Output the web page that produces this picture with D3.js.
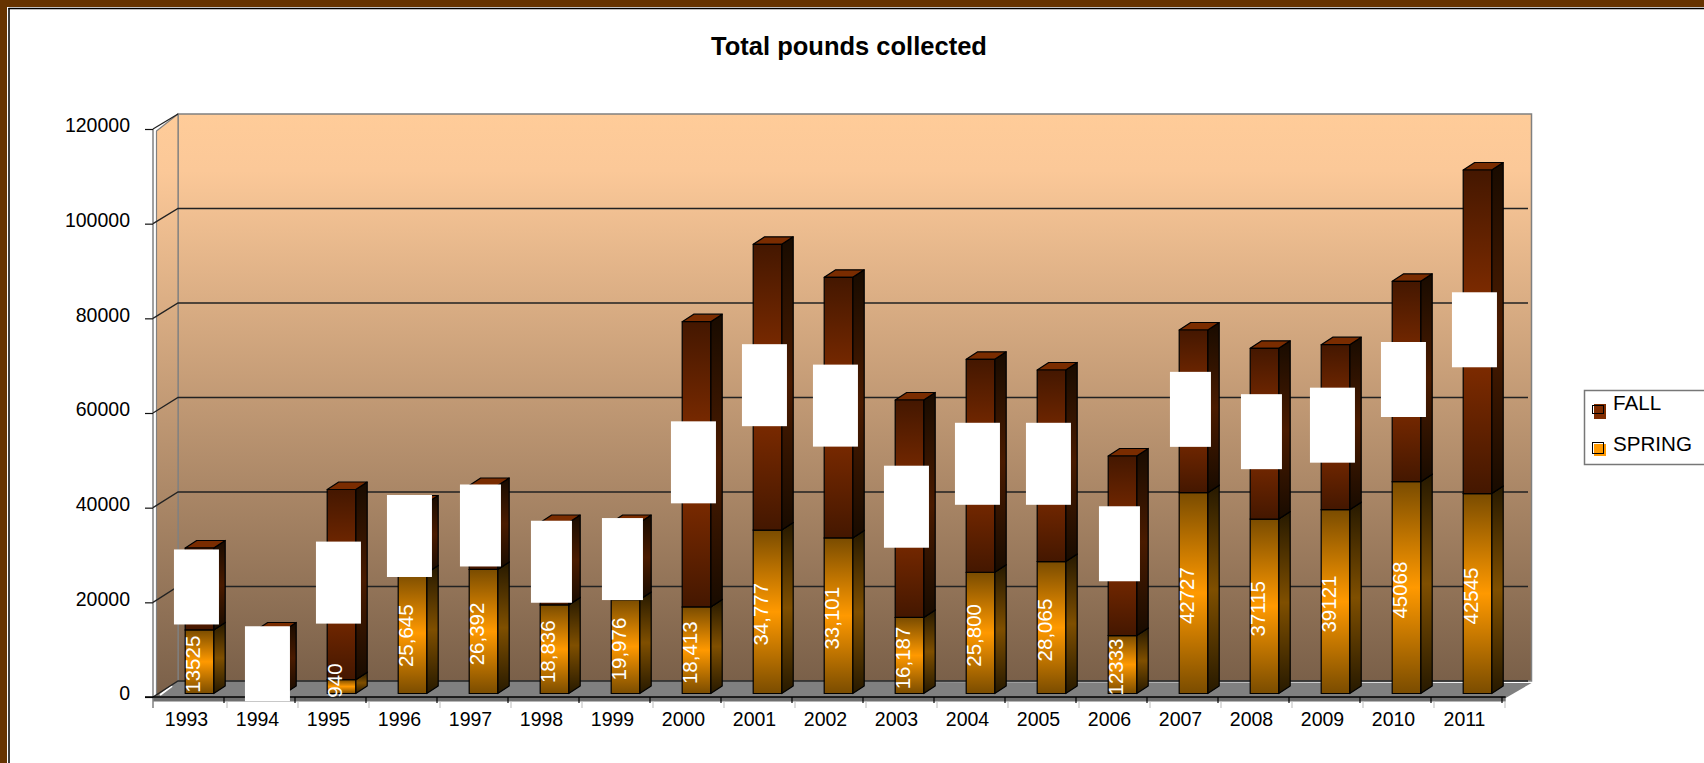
<!DOCTYPE html>
<html>
<head>
<meta charset="utf-8">
<script src="https://cdnjs.cloudflare.com/ajax/libs/d3/7.8.5/d3.min.js"></script>
<style>
  html, body { margin: 0; padding: 0; background: #fff; overflow: hidden; }
  svg { display: block; font-family: "Liberation Sans", Arial, sans-serif; }
</style>
</head>
<body>
<svg id="chart" width="1704" height="763"></svg>
<script>
const years = [1993, 1994, 1995, 1996, 1997, 1998, 1999, 2000, 2001, 2002, 2003, 2004, 2005, 2006, 2007, 2008, 2009, 2010, 2011];
const spring = [13525, 0, 2940, 25645, 26392, 18836, 19976, 18413, 34777, 33101, 16187, 25800, 28065, 12333, 42727, 37115, 39121, 45068, 42545];
const fall = [17435, 13510, 40460, 14885, 17863, 17544, 16404, 60690, 60793, 55450, 46260, 45300, 40765, 38200, 34610, 36335, 35090, 42630, 68835];
const springLabels = ["13525", "", "2,940", "25,645", "26,392", "18,836", "19,976", "18,413", "34,777", "33,101", "16,187", "25,800", "28,065", "12333", "42727", "37115", "39121", "45068", "42545"];
const yTicks = [0, 20000, 40000, 60000, 80000, 100000, 120000];
const seriesNames = ["SPRING", "FALL"];
// the fall labels are hidden behind white boxes in the original, a bit thinner in these years
const narrowBoxYears = [1997, 1998, 1999, 2006, 2007, 2008];

const svg = d3.select("#chart");
const font = 19.5;

// 3d box of the plot
const front = { left: 153, right: 1505.7, top: 129, bottom: 697 };
const back = { left: 178, right: 1531.5, top: 114, bottom: 681 };

const x = d3.scaleBand().domain(years).range([front.left, front.left + 71 * years.length]);
const yFront = d3.scaleLinear().domain([0, 120000]).range([front.bottom, front.top]);
const yBack = d3.scaleLinear().domain([0, 120000]).range([back.bottom, back.top]);
const yBar = d3.scaleLinear().domain([0, 120000]).range([693.5, 129.5]);

const barW = 28.5;
const depthX = 11.5;
const depthY = 7.5;

const table = years.map((year, i) => ({ year, SPRING: spring[i], FALL: fall[i] }));
const stacked = d3.stack().keys(seriesNames)(table);

// gradients
const defs = svg.append("defs");
function gradient(id, stops) {
  const g = defs.append("linearGradient").attr("id", id)
    .attr("x1", 0).attr("y1", 0).attr("x2", 0).attr("y2", 1);
  stops.forEach(s => g.append("stop").attr("offset", s[0]).attr("stop-color", s[1]));
}
gradient("wall", [[0, "#ffcc99"], [0.1, "#fbc898"], [1, "#7a6049"]]);
gradient("fallFront", [[0, "#441700"], [0.5, "#8c3000"], [1, "#441700"]]);
gradient("fallSide", [[0, "#180b00"], [0.5, "#4a1b00"], [1, "#180b00"]]);
gradient("springFront", [[0, "#7a4c00"], [0.5, "#ff9900"], [1, "#7a4c00"]]);
gradient("springSide", [[0, "#261900"], [0.5, "#7f4f00"], [1, "#261900"]]);
defs.append("clipPath").attr("id", "plotClip")
  .append("rect").attr("x", 100).attr("y", 100).attr("width", 1500).attr("height", 599);

// frame of the page
svg.append("rect").attr("width", 1704).attr("height", 7).attr("fill", "#663300");
svg.append("rect").attr("width", 7).attr("height", 763).attr("fill", "#663300");
svg.append("line").attr("x1", 8.5).attr("x2", 1704).attr("y1", 8.5).attr("y2", 8.5).attr("stroke", "#000").attr("stroke-width", 1.5);
svg.append("line").attr("x1", 9).attr("x2", 9).attr("y1", 8).attr("y2", 763).attr("stroke", "#000").attr("stroke-width", 1.5);

svg.append("text")
  .attr("x", 849).attr("y", 55)
  .attr("text-anchor", "middle")
  .attr("font-size", 25.5)
  .attr("font-weight", "bold")
  .text("Total pounds collected");

// walls and floor
const poly = pts => "M" + pts.map(p => p.join(",")).join("L") + "Z";

svg.append("path")
  .attr("d", poly([[front.left, front.bottom], [back.left, back.bottom], [back.right, 683], [front.right, 698]]))
  .attr("fill", "#808080");
svg.append("rect")
  .attr("x", front.left).attr("y", front.bottom)
  .attr("width", front.right - front.left).attr("height", 4.5)
  .attr("fill", "#6f6f6f");
svg.append("rect")
  .attr("x", back.left).attr("y", back.top)
  .attr("width", back.right - back.left).attr("height", back.bottom - back.top)
  .attr("fill", "url(#wall)")
  .attr("stroke", "#808080").attr("stroke-width", 1.5);
svg.append("path")
  .attr("d", poly([[front.left + 3.5, front.top + 2], [back.left, back.top], [back.left, back.bottom], [front.left + 3.5, front.bottom]]))
  .attr("fill", "url(#wall)")
  .attr("stroke", "#808080").attr("stroke-width", 1.2);
svg.append("line")
  .attr("x1", front.left).attr("x2", front.left)
  .attr("y1", front.top).attr("y2", 708)
  .attr("stroke", "#808080").attr("stroke-width", 1.5);
svg.append("line")
  .attr("x1", 160).attr("y1", 695).attr("x2", 172).attr("y2", 686)
  .attr("stroke", "#fff").attr("stroke-width", 2);

// gridlines, back wall and the slanted bit on the left wall
const grid = svg.append("g").attr("stroke", "#222").attr("stroke-width", 1.3).attr("fill", "none");
grid.selectAll("path")
  .data(yTicks)
  .join("path")
  .attr("d", d => d === 120000
    ? `M${front.left},${yFront(d)}L${back.left},${yBack(d)}`
    : `M${front.left},${yFront(d)}L${back.left},${yBack(d)}L1528,${yBack(d)}`);

// y axis on the front edge
const yAxis = d3.axisLeft(yFront).tickValues(yTicks).tickFormat(d3.format("d")).tickSize(8).tickPadding(15);
const yAxisG = svg.append("g").attr("transform", `translate(${front.left},0)`).call(yAxis);
yAxisG.select(".domain").remove();
yAxisG.selectAll("text").attr("font-size", font).attr("font-family", "inherit").attr("fill", "#000").attr("dy", "0.15em");
yAxisG.selectAll("line").attr("stroke", "#111").attr("stroke-width", 1.2);

// x axis
svg.append("line")
  .attr("x1", 145).attr("x2", front.right)
  .attr("y1", front.bottom).attr("y2", front.bottom)
  .attr("stroke", "#000").attr("stroke-width", 1.3);
svg.append("g").selectAll("line")
  .data(years)
  .join("line")
  .attr("x1", d => x(d) + x.bandwidth())
  .attr("x2", d => x(d) + x.bandwidth())
  .attr("y1", front.bottom).attr("y2", 703)
  .attr("stroke", "#000").attr("stroke-width", 1.2);
svg.append("g").selectAll("line")
  .data(years)
  .join("line")
  .attr("x1", d => x(d) + x.bandwidth() + 3)
  .attr("x2", d => x(d) + x.bandwidth() + 3)
  .attr("y1", 701).attr("y2", 708)
  .attr("stroke", "#bbb").attr("stroke-width", 1);

const xAxis = d3.axisBottom(x).tickSize(0).tickPadding(15);
const xAxisG = svg.append("g").attr("transform", `translate(-2,${front.bottom})`).call(xAxis);
xAxisG.select(".domain").remove();
xAxisG.selectAll("text").attr("font-size", font).attr("font-family", "inherit").attr("fill", "#000");

// bars
const barX = d => x(d) + 32.2;
const barsG = svg.append("g").attr("stroke", "#000").attr("stroke-width", 1.2).attr("stroke-linejoin", "round");

stacked.forEach(layer => {
  const name = layer.key === "FALL" ? "fall" : "spring";
  const g = barsG.append("g");
  const segs = layer.map(d => ({ year: d.data.year, y0: yBar(d[0]), y1: yBar(d[1]) }))
    .filter(d => d.y0 - d.y1 > 0);

  g.selectAll("path.side")
    .data(segs)
    .join("path")
    .attr("class", "side")
    .attr("fill", `url(#${name}Side)`)
    .attr("d", d => {
      const r = barX(d.year) + barW;
      return poly([[r, d.y1], [r + depthX, d.y1 - depthY], [r + depthX, d.y0 - depthY], [r, d.y0]]);
    });

  g.selectAll("path.top")
    .data(segs)
    .join("path")
    .attr("class", "top")
    .attr("fill", name === "fall" ? "#7a2c00" : "#9a6000")
    .attr("d", d => {
      const l = barX(d.year);
      return poly([[l, d.y1], [l + depthX, d.y1 - depthY], [l + barW + depthX, d.y1 - depthY], [l + barW, d.y1]]);
    });

  g.selectAll("rect")
    .data(segs)
    .join("rect")
    .attr("fill", `url(#${name}Front)`)
    .attr("x", d => barX(d.year))
    .attr("y", d => d.y1)
    .attr("width", barW)
    .attr("height", d => d.y0 - d.y1);
});

// white boxes over the fall labels, centred on the fall segment
const boxW = d => narrowBoxYears.includes(d.year) ? 41 : 45;
const boxH = (d, i) => springLabels[i].includes(",") ? 82 : 75;
svg.append("g").selectAll("rect")
  .data(table)
  .join("rect")
  .attr("fill", "#fff")
  .attr("width", boxW)
  .attr("height", boxH)
  .attr("x", d => barX(d.year) + barW / 2 - 3 - boxW(d) / 2)
  .attr("y", (d, i) => yBar(d.SPRING + d.FALL / 2) + (d.SPRING > 0 ? -2 : 2) - boxH(d, i) / 2);

// spring labels
svg.append("g").attr("clip-path", "url(#plotClip)")
  .selectAll("text")
  .data(table.filter(d => d.SPRING > 0))
  .join("text")
  .attr("transform", d => `translate(${barX(d.year) + barW / 2 - 6.5},${yBar(d.SPRING / 2) + 2.5}) rotate(-90)`)
  .attr("text-anchor", "middle")
  .attr("dy", "0.36em")
  .attr("font-size", 20.5)
  .attr("fill", "#fff")
  .text(d => springLabels[years.indexOf(d.year)]);

// legend
const legend = svg.append("g");
legend.append("rect")
  .attr("x", 1584.5).attr("y", 390.5).attr("width", 130).attr("height", 74)
  .attr("fill", "#fff").attr("stroke", "#777").attr("stroke-width", 1.5);
const legendItems = legend.selectAll("g")
  .data(["FALL", "SPRING"])
  .join("g")
  .attr("transform", (d, i) => `translate(0,${i * 41})`);
legendItems.append("rect")
  .attr("x", 1594).attr("y", d => d === "FALL" ? 404 : 403)
  .attr("width", 12).attr("height", d => d === "FALL" ? 15 : 12)
  .attr("fill", d => d === "FALL" ? "#7f2c00" : "#ff9900");
legendItems.append("rect")
  .attr("x", 1592.5).attr("y", d => d === "FALL" ? 405.5 : 401.5)
  .attr("width", 11).attr("height", d => d === "FALL" ? 8 : 11)
  .attr("fill", "none").attr("stroke", "#000").attr("stroke-width", 1);
legendItems.append("text")
  .attr("x", 1613).attr("y", 410)
  .attr("font-size", 20.6)
  .attr("fill", "#000")
  .text(d => d);
</script>
</body>
</html>
